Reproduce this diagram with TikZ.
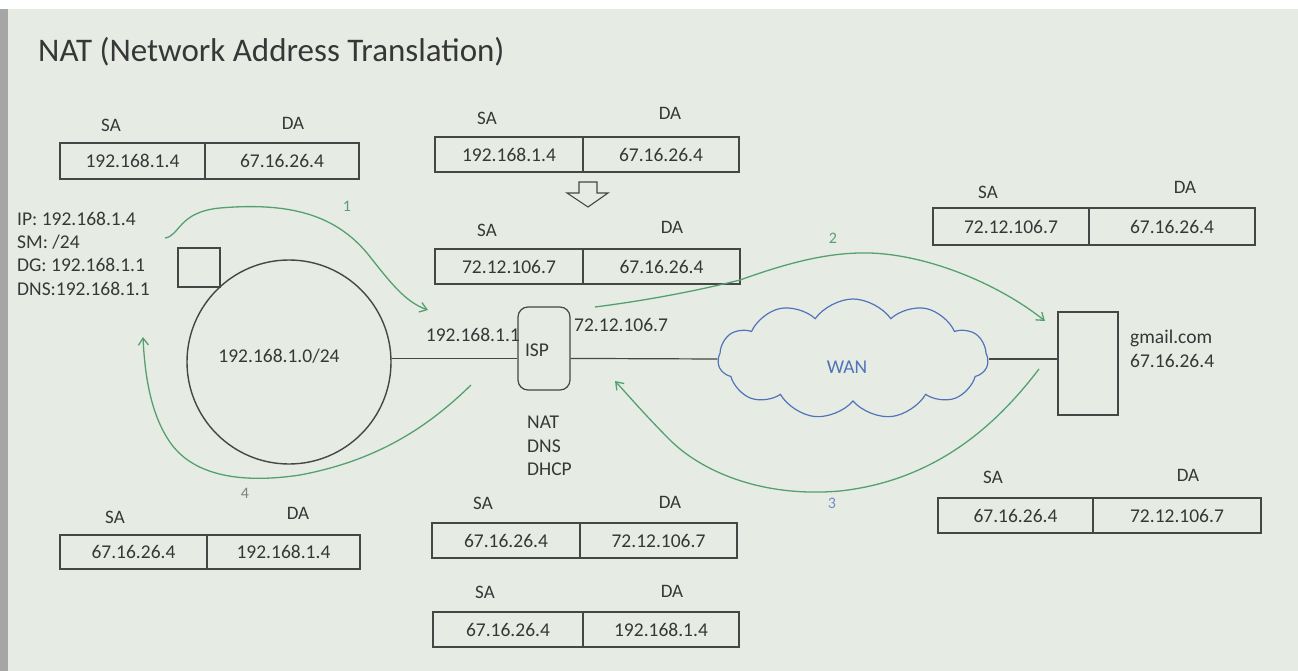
\documentclass[tikz,border=0pt]{standalone}
\usepackage{fontspec}
\setmainfont{Carlito}
\usetikzlibrary{positioning,shapes.symbols,arrows.meta}
\definecolor{ink}{RGB}{55,55,55}
\definecolor{rule}{RGB}{70,70,70}
\definecolor{flowgreen}{RGB}{85,160,110}
\definecolor{wanblue}{RGB}{80,115,185}
\definecolor{screen}{RGB}{230,236,228}

\begin{document}
\begin{tikzpicture}[x=1pt,y=-1pt,
  cell/.style={draw=rule, line width=1.2pt, inner sep=0pt, outer sep=0pt, minimum height=36, text=ink, font=\fontsize{19.5}{22}\selectfont},
  hdr/.style={text=ink, font=\fontsize{19}{22}\selectfont, inner sep=0pt},
  txt/.style={text=ink, font=\fontsize{19.5}{23.4}\selectfont, inner sep=0pt, align=left},
  box/.style={draw=rule, line width=1.2pt, inner sep=0pt},
  link/.style={draw=rule, line width=1.2pt},
  flow/.style={draw=flowgreen, line width=1.3pt, -{Straight Barb[length=7pt,width=10pt]}},
  num/.style={font=\fontsize{16}{18}\selectfont, inner sep=0pt}]

% screen background
\fill[screen] (0,0) rectangle (1298,671);
\fill[white] (0,0) rectangle (1298,9);
\fill[gray!70] (0,9) rectangle (8,671);
\useasboundingbox (0,0) rectangle (1298,671);

% title
\node[anchor=base west, text=ink, font=\fontsize{33}{36}\selectfont, inner sep=0pt] (title) at (38,62) {NAT (Network Address Translation)};

% packet 1, leaving the host
\node[cell, minimum width=145] (t1sa) at (132.5,161) {192.168.1.4};
\node[cell, minimum width=154, right=0pt of t1sa] (t1da) {67.16.26.4};
\node[hdr] (t1sah) at (111,125) {SA};
\node[hdr] (t1dah) at (293,123) {DA};

% packet before and after translation
\node[cell, minimum width=148, minimum height=35] (t2sa) at (509,154.5) {192.168.1.4};
\node[cell, minimum width=156, minimum height=35, right=0pt of t2sa] (t2da) {67.16.26.4};
\node[hdr] (t2sah) at (487,118) {SA};
\node[hdr] (t2dah) at (670,113) {DA};
\draw[rule, line width=1.1pt] (579,182) -- (597,182) -- (597,193) -- (608,193) -- (588,207) -- (567,193) -- (579,193) -- cycle;
\node[cell, minimum width=148, minimum height=35] (t3sa) at (509,266.5) {72.12.106.7};
\node[cell, minimum width=157, minimum height=35, right=0pt of t3sa] (t3da) {67.16.26.4};
\node[hdr] (t3sah) at (487,230) {SA};
\node[hdr] (t3dah) at (672,227) {DA};

% packet 2, on the WAN
\node[cell, minimum width=156, minimum height=37] (t4sa) at (1011,226.5) {72.12.106.7};
\node[cell, minimum width=166, minimum height=37, right=0pt of t4sa] (t4da) {67.16.26.4};
\node[hdr] (t4sah) at (988,192) {SA};
\node[hdr] (t4dah) at (1185,187) {DA};

% packet 3, the reply
\node[cell, minimum width=155, minimum height=35] (t5sa) at (1015.5,515.5) {67.16.26.4};
\node[cell, minimum width=168, minimum height=35, right=0pt of t5sa] (t5da) {72.12.106.7};
\node[hdr] (t5sah) at (993,477) {SA};
\node[hdr] (t5dah) at (1188,475) {DA};

% packet 4, back to the host
\node[cell, minimum width=147, minimum height=34] (t6sa) at (133.5,552) {67.16.26.4};
\node[cell, minimum width=153, minimum height=34, right=0pt of t6sa] (t6da) {192.168.1.4};
\node[hdr] (t6sah) at (115,517) {SA};
\node[hdr] (t6dah) at (298,513) {DA};

% reply before and after translation
\node[cell, minimum width=148, minimum height=35] (t7sa) at (506,540.5) {67.16.26.4};
\node[cell, minimum width=157, minimum height=35, right=0pt of t7sa] (t7da) {72.12.106.7};
\node[hdr] (t7sah) at (483,503) {SA};
\node[hdr] (t7dah) at (670,502) {DA};
\node[cell, minimum width=150, minimum height=35] (t8sa) at (508,629.5) {67.16.26.4};
\node[cell, minimum width=156, minimum height=35, right=0pt of t8sa] (t8da) {192.168.1.4};
\node[hdr] (t8sah) at (485,592) {SA};
\node[hdr] (t8dah) at (672,591) {DA};

% host and its settings
\node[txt, anchor=north west] (cfg) at (17,211.5) {IP: 192.168.1.4\\SM: /24\\DG: 192.168.1.1\\DNS:192.168.1.1};
\node[box, minimum width=42, minimum height=39] (host) at (199,267.5) {};

% local network
\node[circle, draw=rule, line width=1.4pt, minimum size=204, inner sep=0pt] (lan) at (289,362) {};
\node[txt] (lanip) at (279,356) {192.168.1.0/24};

% router
\node[box, rounded corners=10, minimum width=52, minimum height=83] (isp) at (544,348.5) {};
\node[txt] (isptxt) at (537,350) {ISP};
\node[txt, anchor=east] (ispin) at (520,335) {192.168.1.1};
\node[txt, anchor=west] (ispout) at (574,325) {72.12.106.7};
\node[txt, anchor=north west] (svc) at (527,416) {NAT\\DNS\\DHCP};

% internet
\node[cloud, draw=wanblue, line width=1.2pt, cloud puffs=11, cloud puff arc=110, aspect=2.2, minimum width=270, minimum height=120, inner sep=0pt] (wan) at (853,359) {};
\node[txt, text=wanblue] (wantxt) at (847,367) {WAN};

% server
\node[box, minimum width=60, minimum height=103] (gmail) at (1088,363.5) {};
\node[txt, anchor=north west] (gmailtxt) at (1130,330) {gmail.com\\67.16.26.4};

% wires
\draw[link] (lan.2) -- (lan.2 -| isp.west);
\draw[link] (lan.2 -| isp.east) -- (wan.west);
\draw[link] (wan.east) -- (wan.east -| gmail.west);

% packet flow
\coordinate (f1s) at (165,238);
\coordinate (f1e) at (428,310);
\coordinate (f2s) at (595,307);
\coordinate (f2e) at (1045,321);
\coordinate (f3s) at (1039,369);
\coordinate (f3e) at (615,381);
\coordinate (f4s) at (471,385);
\coordinate (f4e) at (143,337);
\draw[flow] (f1s) .. controls (180,236) and (178,212) .. (220,208) .. controls (290,202) and (335,215) .. (367,253) .. controls (390,282) and (405,302) .. (f1e);
\draw[flow] (f2s) .. controls (650,300) and (700,290) .. (740,280) .. controls (790,262) and (830,252) .. (870,253) .. controls (930,255) and (1000,285) .. (f2e);
\draw[flow] (f3s) .. controls (1000,420) and (940,480) .. (840,491) .. controls (760,498) and (700,470) .. (670,440) .. controls (645,415) and (628,395) .. (f3e);
\draw[flow] (f4s) .. controls (430,425) and (380,460) .. (300,475) .. controls (240,484) and (195,475) .. (172,445) .. controls (152,418) and (145,380) .. (f4e);
\node[num, text=flowgreen] (n1) at (347,206) {1};
\node[num, text=flowgreen] (n2) at (833,238) {2};
\node[num, text=wanblue!80] (n3) at (832,503) {3};
\node[num, text=gray] (n4) at (245,493) {4};

\end{tikzpicture}
\end{document}
